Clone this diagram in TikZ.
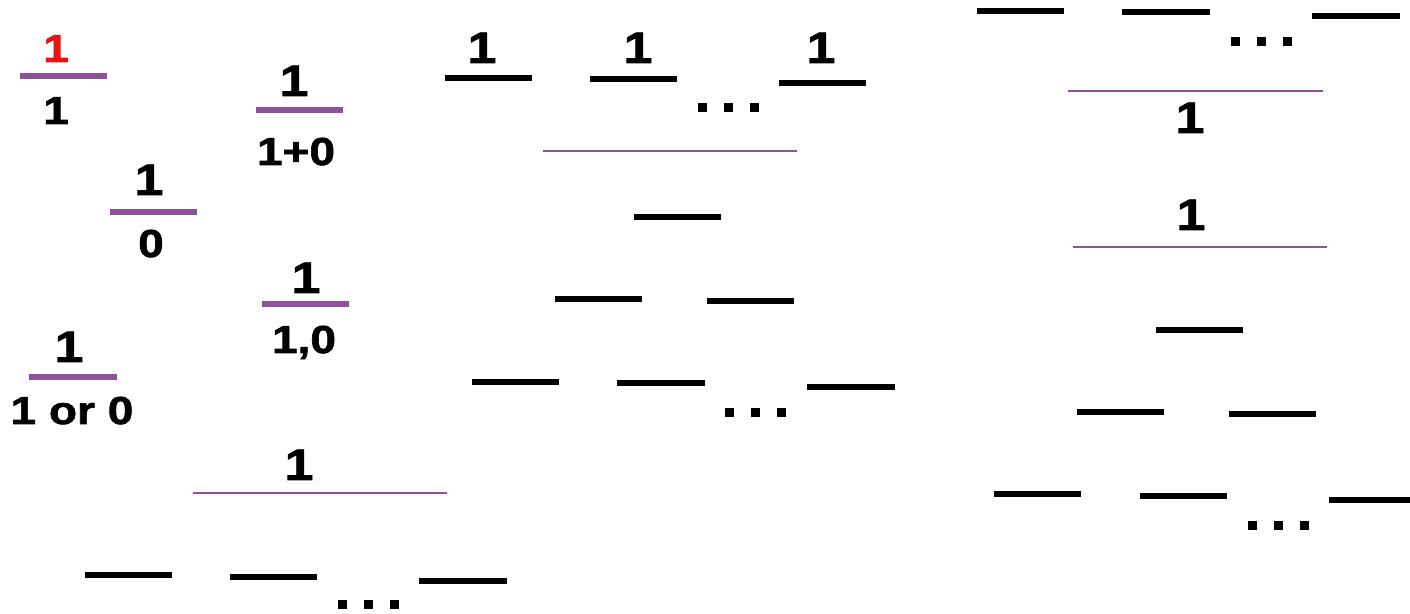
\documentclass[tikz,border=0pt]{standalone}
\usepackage{fontspec}
\setmainfont{Liberation Sans}[FakeStretch=1.18,FakeBold=1.6]
\usepackage{tikz}
\usetikzlibrary{positioning}
\definecolor{barpurple}{RGB}{142,82,152}
\definecolor{topred}{RGB}{230,20,20}
\tikzset{
  numtext/.style={anchor=base,inner sep=0pt,font=\fontsize{22}{26}\selectfont\bfseries},
  dentext/.style={anchor=base,inner sep=0pt,font=\fontsize{19.5}{23}\selectfont\bfseries},
  fracbar/.style={draw=barpurple,line width=3pt},
  longbar/.style={draw=barpurple,line width=1pt},
  blankbar/.style={draw=black,line width=3.2pt},
}
% three square dots centred at (#1,#2)
\newcommand{\gapdots}[2]{%
  \foreach \d in {-26,0,26}
    \fill ({#1+\d-4.5},{#2-4.5}) rectangle ({#1+\d+4.5},{#2+4.5});}

\begin{document}
\begin{tikzpicture}[x=0.5pt,y=-0.5pt]
\useasboundingbox (0,0) rectangle (1410,614);

% left column: small fractions
\node[dentext,text=topred] (fa-num) at (56,62) {1};
\draw[fracbar] (20,76) -- (107,76);
\node[dentext] (fa-den) at (56,124) {1};

\node[numtext] (fb-num) at (294,96) {1};
\draw[fracbar] (256,110) -- (343,110);
\node[dentext] (fb-den) at (296,165) {1+0};

\node[numtext] (fc-num) at (149,195) {1};
\draw[fracbar] (110,212) -- (197,212);
\node[dentext] (fc-den) at (151,257) {0};

\node[numtext] (fd-num) at (306,293) {1};
\draw[fracbar] (262,304) -- (349,304);
\node[dentext] (fd-den) at (304,353) {1,0};

\node[numtext] (fe-num) at (69,362) {1};
\draw[fracbar] (29,377) -- (117,377);
\node[dentext] (fe-den) at (72,424) {1 or 0};

% left column: one over blanks
\node[numtext] (ff-num) at (299,480) {1};
\draw[longbar] (193,493) -- (447,493);
\draw[blankbar] (85,575) -- (172,575);
\draw[blankbar] (230,577) -- (317,577);
\draw[blankbar] (419,581) -- (507,581);
\gapdots{368}{605}

% middle column
\node[numtext] (mid-a) at (482,63) {1};
\node[numtext] (mid-b) at (638,63) {1};
\node[numtext] (mid-c) at (821,63) {1};
\draw[blankbar] (445,78) -- (532,78);
\draw[blankbar] (590,79) -- (677,79);
\draw[blankbar] (779,83) -- (866,83);
\gapdots{728}{108}
\draw[longbar] (543,151) -- (797,151);
\draw[blankbar] (634,217) -- (721,217);
\draw[blankbar] (555,299) -- (642,299);
\draw[blankbar] (707,301) -- (794,301);
\draw[blankbar] (472,382) -- (559,382);
\draw[blankbar] (617,383) -- (705,383);
\draw[blankbar] (807,387) -- (895,387);
\gapdots{755}{413}

% right column
\draw[blankbar] (977,11) -- (1064,11);
\draw[blankbar] (1122,12) -- (1210,12);
\draw[blankbar] (1312,16) -- (1400,16);
\gapdots{1261}{42}
\draw[longbar] (1068,91) -- (1323,91);
\node[numtext] (rgt-a) at (1190,133) {1};
\node[numtext] (rgt-b) at (1191,230) {1};
\draw[longbar] (1073,247) -- (1327,247);
\draw[blankbar] (1156,330) -- (1243,330);
\draw[blankbar] (1077,412) -- (1164,412);
\draw[blankbar] (1229,414) -- (1316,414);
\draw[blankbar] (994,494) -- (1081,494);
\draw[blankbar] (1140,496) -- (1227,496);
\draw[blankbar] (1329,500) -- (1410,500);
\gapdots{1278}{526}
\end{tikzpicture}
\end{document}
